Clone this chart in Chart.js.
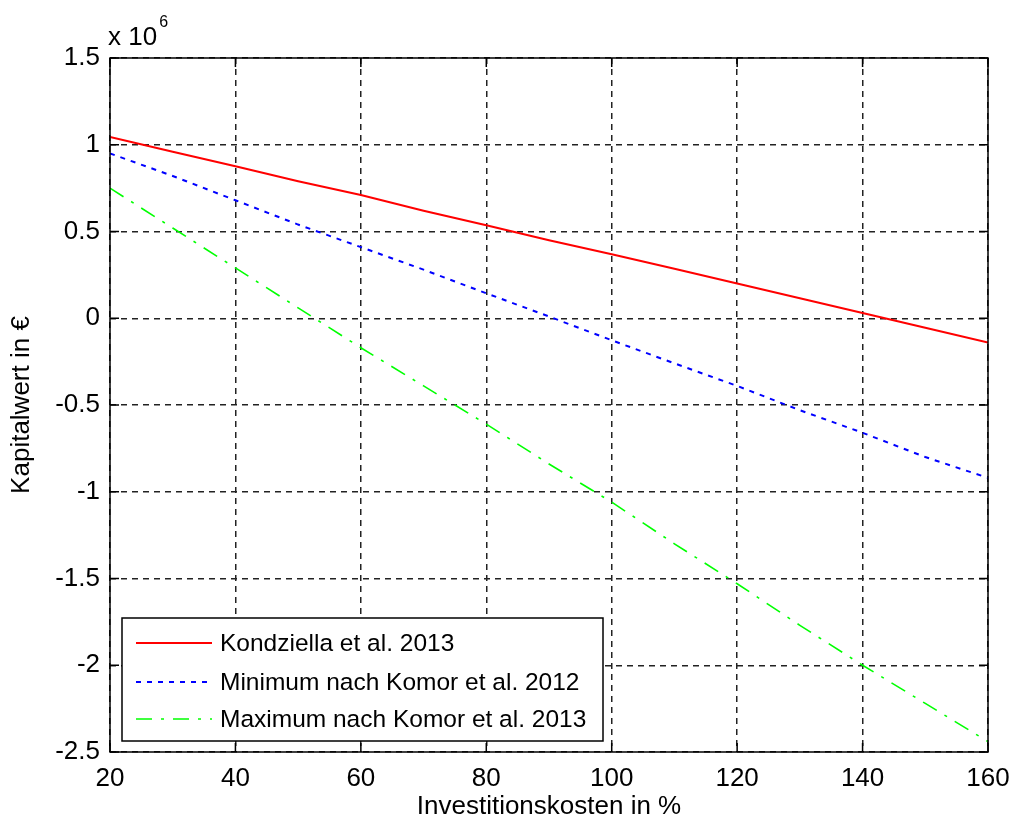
<!DOCTYPE html>
<html>
<head>
<meta charset="utf-8">
<title>Kapitalwert</title>
<script src="https://cdn.jsdelivr.net/npm/chart.js@4/dist/chart.umd.min.js"></script>
<style>
  html, body { margin: 0; padding: 0; background: #fff; }
  canvas { display: block; }
</style>
</head>
<body>
<canvas id="chart" width="1012" height="820"></canvas>
<script>
// Investitionskosten in % (x) and Kapitalwert in Mio. € (y)
const kosten = [20, 30, 40, 50, 60, 70, 80, 90, 100, 110, 120, 130, 140, 150, 160];
const kondziella = [1.045, 0.96, 0.876, 0.79, 0.71, 0.62, 0.536, 0.45, 0.369, 0.285, 0.20, 0.115, 0.03, -0.055, -0.14];
const komorMin = [0.95, 0.82, 0.68, 0.54, 0.41, 0.28, 0.144, 0.01, -0.127, -0.26, -0.39, -0.53, -0.66, -0.80, -0.92];
const komorMax = [0.75, 0.52, 0.29, 0.06, -0.17, -0.39, -0.61, -0.84, -1.06, -1.30, -1.53, -1.77, -2.0, -2.22, -2.44];

const seriesNames = ['Kondziella et al. 2013', 'Minimum nach Komor et al. 2012', 'Maximum nach Komor et al. 2013'];
const xTicks = [20, 40, 60, 80, 100, 120, 140, 160];
const yTicks = [-2.5, -2, -1.5, -1, -0.5, 0, 0.5, 1, 1.5];

const FONT = "'Liberation Sans', Arial, sans-serif";

function points(ys) {
  return kosten.map((x, i) => ({ x: x, y: ys[i] }));
}

// solid frame with inward tick marks on all four sides
const framePlugin = {
  id: 'frame',
  afterDatasetsDraw(chart) {
    const { ctx, chartArea: a, scales } = chart;
    ctx.save();
    ctx.strokeStyle = '#000';
    ctx.lineWidth = 1.5;
    ctx.setLineDash([]);
    ctx.strokeRect(a.left, a.top, a.right - a.left, a.bottom - a.top);
    const len = 9;
    ctx.beginPath();
    xTicks.forEach(v => {
      const px = scales.x.getPixelForValue(v);
      ctx.moveTo(px, a.bottom); ctx.lineTo(px, a.bottom - len);
      ctx.moveTo(px, a.top); ctx.lineTo(px, a.top + len);
    });
    yTicks.forEach(v => {
      const py = scales.y.getPixelForValue(v);
      ctx.moveTo(a.left, py); ctx.lineTo(a.left + len, py);
      ctx.moveTo(a.right, py); ctx.lineTo(a.right - len, py);
    });
    ctx.stroke();

    // exponent label above the y axis
    ctx.fillStyle = '#000';
    ctx.textBaseline = 'alphabetic';
    ctx.textAlign = 'left';
    ctx.font = '26px ' + FONT;
    ctx.fillText('x 10', a.left - 2, a.top - 13);
    const w = ctx.measureText('x 10').width;
    ctx.font = '16px ' + FONT;
    ctx.fillText('6', a.left + w, a.top - 31);
    ctx.restore();
  }
};

// boxed legend in the lower left corner of the plot area
const boxLegendPlugin = {
  id: 'boxLegend',
  afterDraw(chart) {
    const { ctx, chartArea: a } = chart;
    const left = a.left + 12, right = a.left + 493;
    const bottom = a.bottom - 11, top = bottom - 123;
    ctx.save();
    ctx.fillStyle = '#fff';
    ctx.fillRect(left, top, right - left, bottom - top);
    ctx.strokeStyle = '#000';
    ctx.lineWidth = 1.5;
    ctx.setLineDash([]);
    ctx.strokeRect(left, top, right - left, bottom - top);
    const rowY = [top + 25, top + 64, top + 101];
    ctx.font = '24.5px ' + FONT;
    ctx.textBaseline = 'middle';
    ctx.textAlign = 'left';
    chart.data.datasets.forEach((ds, i) => {
      const y = rowY[i];
      ctx.strokeStyle = ds.borderColor;
      ctx.lineWidth = ds.borderWidth;
      ctx.setLineDash(ds.borderDash || []);
      ctx.beginPath();
      ctx.moveTo(left + 14, y);
      ctx.lineTo(left + 90, y);
      ctx.stroke();
      ctx.fillStyle = '#000';
      ctx.fillText(ds.label, left + 98, y + 1);
    });
    ctx.restore();
  }
};

const ctx = document.getElementById('chart').getContext('2d');
new Chart(ctx, {
  type: 'line',
  data: {
    datasets: [
      {
        label: seriesNames[0],
        data: points(kondziella),
        borderColor: '#ff0000',
        borderWidth: 2,
        pointRadius: 0,
        fill: false,
        tension: 0
      },
      {
        label: seriesNames[1],
        data: points(komorMin),
        borderColor: '#0000ff',
        borderWidth: 2,
        borderDash: [5, 6],
        pointRadius: 0,
        fill: false,
        tension: 0
      },
      {
        label: seriesNames[2],
        data: points(komorMax),
        borderColor: '#00ff00',
        borderWidth: 1.6,
        borderDash: [16, 9, 3, 9],
        pointRadius: 0,
        fill: false,
        tension: 0
      }
    ]
  },
  options: {
    responsive: false,
    animation: false,
    layout: {
      padding: { left: 2, top: 58, right: 24, bottom: 0 }
    },
    plugins: {
      legend: { display: false },
      tooltip: { enabled: false }
    },
    scales: {
      x: {
        type: 'linear',
        min: 20,
        max: 160,
        afterBuildTicks(scale) {
          scale.ticks = xTicks.map(v => ({ value: v }));
        },
        afterFit(scale) {
          scale.height = 68;
          scale.paddingLeft = 0;
          scale.paddingRight = 0;
        },
        grid: {
          color: '#222',
          lineWidth: 1.5,
          drawTicks: false
        },
        border: { display: false, dash: [6, 5] },
        ticks: {
          color: '#000',
          padding: 11,
          font: { family: FONT, size: 26 },
          maxRotation: 0,
          callback: v => String(v)
        },
        title: {
          display: true,
          text: 'Investitionskosten in %',
          color: '#000',
          font: { family: FONT, size: 26, lineHeight: 1 },
          padding: { top: 0, bottom: 0 }
        }
      },
      y: {
        type: 'linear',
        min: -2.5,
        max: 1.5,
        afterBuildTicks(scale) {
          scale.ticks = yTicks.map(v => ({ value: v }));
        },
        afterFit(scale) {
          scale.width = 108;
          scale.paddingTop = 0;
          scale.paddingBottom = 0;
        },
        grid: {
          color: '#222',
          lineWidth: 1.5,
          drawTicks: false
        },
        border: { display: false, dash: [6, 5] },
        ticks: {
          color: '#000',
          padding: 10,
          font: { family: FONT, size: 26 },
          callback: v => String(v)
        },
        title: {
          display: true,
          text: 'Kapitalwert in €',
          color: '#000',
          font: { family: FONT, size: 26, lineHeight: 1.2 },
          padding: { top: 4, bottom: 0 }
        }
      }
    }
  },
  plugins: [framePlugin, boxLegendPlugin]
});
</script>
</body>
</html>
